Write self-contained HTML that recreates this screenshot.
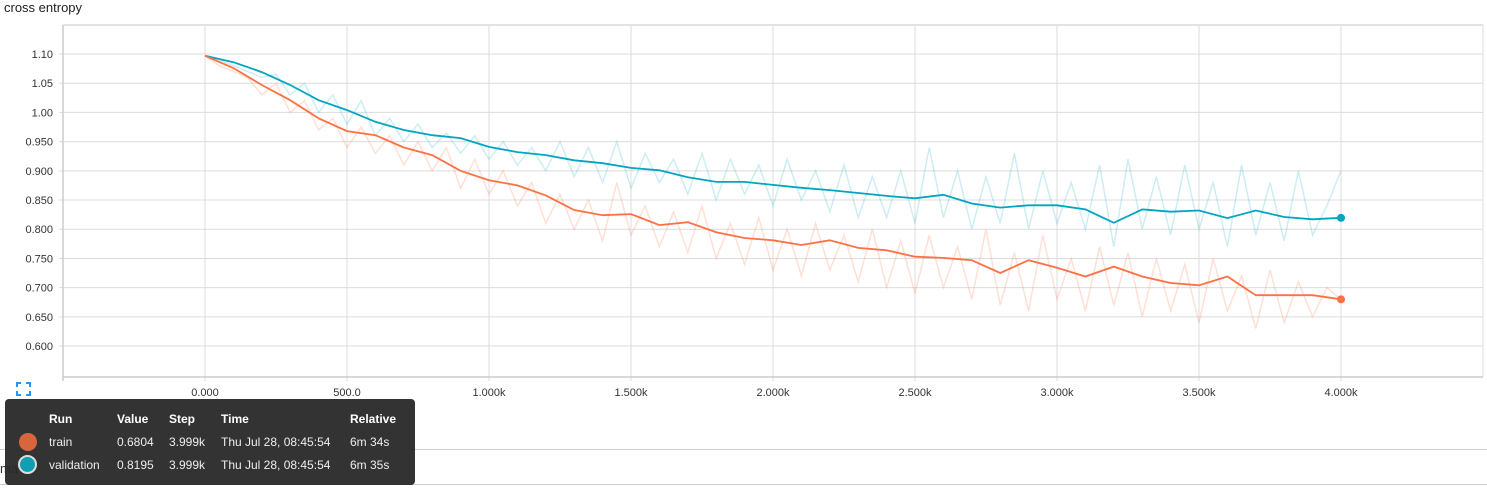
<!DOCTYPE html>
<html><head><meta charset="utf-8">
<style>
body{margin:0;width:1487px;height:491px;overflow:hidden;background:#fff;font-family:"Liberation Sans",Arial,sans-serif;position:relative}
#title{position:absolute;left:4px;top:0;font-size:13px;color:#222}
svg{position:absolute;left:0;top:0}
#tip{position:absolute;left:5px;top:399px;width:410px;height:86px;background:rgba(40,40,40,0.95);border-radius:4px;color:#eee;font-size:12px}
#tip span{position:absolute;white-space:nowrap}
.h{font-weight:bold;color:#fff}
.dot{position:absolute;width:18px;height:18px;border-radius:50%}
</style></head><body>
<div id="title">cross entropy</div>
<div style="position:absolute;left:0;top:449px;width:1487px;height:1px;background:#ccc"></div>
<div style="position:absolute;left:0;top:484px;width:1487px;height:1px;background:#ccc"></div>
<div style="position:absolute;left:0;top:461px;font-size:13px;color:#333">ma</div>
<svg id="chart" width="1487" height="491"></svg>
<div id="tip">
<span class="h" style="left:44px;top:13px">Run</span>
<span class="h" style="left:112px;top:13px">Value</span>
<span class="h" style="left:164px;top:13px">Step</span>
<span class="h" style="left:216px;top:13px">Time</span>
<span class="h" style="left:345px;top:13px">Relative</span>
<div class="dot" style="left:14px;top:34px;background:#d9653f"></div>
<span style="left:44px;top:36px">train</span><span style="left:112px;top:36px">0.6804</span><span style="left:164px;top:36px">3.999k</span><span style="left:216px;top:36px">Thu Jul 28, 08:45:54</span><span style="left:345px;top:36px">6m 34s</span>
<div class="dot" style="left:13px;top:56px;background:#0e9fb3;border:2px solid #ddd;width:15px;height:15px"></div>
<span style="left:44px;top:59px">validation</span><span style="left:112px;top:59px">0.8195</span><span style="left:164px;top:59px">3.999k</span><span style="left:216px;top:59px">Thu Jul 28, 08:45:54</span><span style="left:345px;top:59px">6m 35s</span>
</div>
<script>
const smoothSteps=[0,100,200,300,400,500,600,700,800,900,1000,1100,1200,1300,1400,1500,1600,1700,1800,1900,2000,2100,2200,2300,2400,2500,2600,2700,2800,2900,3000,3100,3200,3300,3400,3500,3600,3700,3800,3900,4000];
const trainSmooth=[1.097,1.076,1.047,1.021,0.99,0.968,0.961,0.94,0.927,0.90,0.884,0.875,0.858,0.833,0.824,0.826,0.807,0.812,0.795,0.785,0.781,0.773,0.781,0.768,0.764,0.753,0.751,0.747,0.725,0.747,0.734,0.719,0.736,0.719,0.708,0.704,0.719,0.687,0.687,0.687,0.680];
const valSmooth=[1.097,1.086,1.069,1.047,1.021,1.004,0.984,0.970,0.961,0.956,0.941,0.932,0.927,0.918,0.913,0.905,0.901,0.889,0.881,0.881,0.876,0.871,0.867,0.862,0.857,0.853,0.859,0.844,0.837,0.841,0.841,0.834,0.811,0.834,0.830,0.832,0.819,0.832,0.821,0.817,0.8195];
const rawSteps=[0,50,100,150,200,250,300,350,400,450,500,550,600,650,700,750,800,850,900,950,1000,1050,1100,1150,1200,1250,1300,1350,1400,1450,1500,1550,1600,1650,1700,1750,1800,1850,1900,1950,2000,2050,2100,2150,2200,2250,2300,2350,2400,2450,2500,2550,2600,2650,2700,2750,2800,2850,2900,2950,3000,3050,3100,3150,3200,3250,3300,3350,3400,3450,3500,3550,3600,3650,3700,3750,3800,3850,3900,3950,4000];
const trainRaw=[1.097,1.08,1.07,1.06,1.03,1.05,1.00,1.02,0.97,0.99,0.94,0.975,0.93,0.96,0.91,0.95,0.90,0.94,0.87,0.92,0.86,0.90,0.84,0.88,0.81,0.86,0.80,0.85,0.78,0.88,0.79,0.84,0.77,0.83,0.76,0.84,0.75,0.81,0.74,0.82,0.73,0.80,0.72,0.81,0.73,0.79,0.71,0.80,0.70,0.78,0.69,0.79,0.70,0.77,0.68,0.80,0.67,0.76,0.66,0.79,0.68,0.75,0.66,0.77,0.67,0.76,0.65,0.75,0.66,0.74,0.64,0.75,0.66,0.72,0.63,0.73,0.64,0.71,0.65,0.70,0.68];
const valRaw=[1.097,1.09,1.08,1.07,1.06,1.065,1.03,1.05,1.00,1.03,0.98,1.02,0.96,0.99,0.95,0.98,0.94,0.965,0.93,0.96,0.92,0.95,0.91,0.94,0.90,0.95,0.89,0.94,0.88,0.95,0.87,0.93,0.88,0.92,0.86,0.93,0.85,0.92,0.86,0.91,0.84,0.92,0.85,0.90,0.83,0.91,0.82,0.89,0.82,0.90,0.81,0.94,0.82,0.90,0.80,0.89,0.81,0.93,0.80,0.90,0.81,0.88,0.80,0.91,0.77,0.92,0.80,0.89,0.79,0.91,0.80,0.88,0.77,0.91,0.79,0.88,0.78,0.90,0.79,0.84,0.90];
const yTicks=[1.10,1.05,1.00,0.95,0.90,0.85,0.80,0.75,0.70,0.65,0.60];
const yTickLabels=["1.10","1.05","1.00","0.950","0.900","0.850","0.800","0.750","0.700","0.650","0.600"];
const xTicks=[0,500,1000,1500,2000,2500,3000,3500,4000];
const xTickLabels=["0.000","500.0","1.000k","1.500k","2.000k","2.500k","3.000k","3.500k","4.000k"];

const X0=63,X1=1483,Y0=25,Y1=377;
const xMin=-500,xMax=4500,yMin=0.547,yMax=1.1497;
const sx=v=>X0+(v-xMin)/(xMax-xMin)*(X1-X0);
const sy=v=>Y1-(v-yMin)/(yMax-yMin)*(Y1-Y0);
const svg=document.getElementById('chart');
const NS='http://www.w3.org/2000/svg';
function mk(t,a){const e=document.createElementNS(NS,t);for(const k in a)e.setAttribute(k,a[k]);svg.appendChild(e);return e;}

let e=mk('line',{x1:X0,x2:X1,y1:Y0,y2:Y0,stroke:'#e3e3e3','stroke-width':2});


yTicks.forEach((v,i)=>{
  const l=mk('line',{x1:X0-4,x2:X1,y1:sy(v),y2:sy(v),stroke:'#dcdcdc','stroke-width':1});
  
  
  const t=mk('text',{x:53,y:sy(v)+4,'text-anchor':'end','font-size':11,fill:'#333','font-family':'Liberation Sans, sans-serif'});
  t.textContent=yTickLabels[i];
  
  
});
xTicks.forEach((v,i)=>{
  const l=mk('line',{x1:sx(v),x2:sx(v),y1:Y0,y2:Y1+4,stroke:'#dcdcdc','stroke-width':1});
  
  
  const t=mk('text',{x:sx(v),y:396,'text-anchor':'middle','font-size':11,fill:'#333','font-family':'Liberation Sans, sans-serif'});
  t.textContent=xTickLabels[i];
  
  
});
e=mk('line',{x1:X1,x2:X1,y1:Y0,y2:Y1,stroke:'#dcdcdc','stroke-width':1});


e=mk('line',{x1:X0,x2:X0,y1:Y0,y2:Y1+4,stroke:'#ccc','stroke-width':1.5});


e=mk('line',{x1:X0,x2:X1,y1:Y1,y2:Y1,stroke:'#ccc','stroke-width':1.5});



function path(xs,ys){return xs.map((s,i)=>(i?'L':'M')+sx(s).toFixed(1)+','+sy(ys[i]).toFixed(1)).join('');}
e=mk('path',{d:path(rawSteps,valRaw),fill:'none',stroke:'#00acc1','stroke-opacity':0.2,'stroke-width':1.5});


e=mk('path',{d:path(rawSteps,trainRaw),fill:'none',stroke:'#ff7043','stroke-opacity':0.22,'stroke-width':1.5});


e=mk('path',{d:path(smoothSteps,valSmooth),fill:'none',stroke:'#00a6bf','stroke-width':1.8});


e=mk('path',{d:path(smoothSteps,trainSmooth),fill:'none',stroke:'#ff7043','stroke-width':1.8});


const n=smoothSteps.length-1;
e=mk('circle',{cx:sx(smoothSteps[n]),cy:sy(valSmooth[n]),r:4,fill:'#00a6bf'});


e=mk('circle',{cx:sx(smoothSteps[n]),cy:sy(trainSmooth[n]),r:4,fill:'#ff7043'});


// expand icon
e=mk('path',{d:'M17,387V383H21M26,383H30V387M30,391V395H26M21,395H17V391',fill:'none',stroke:'#2196f3','stroke-width':2});


</script>
</body></html>
